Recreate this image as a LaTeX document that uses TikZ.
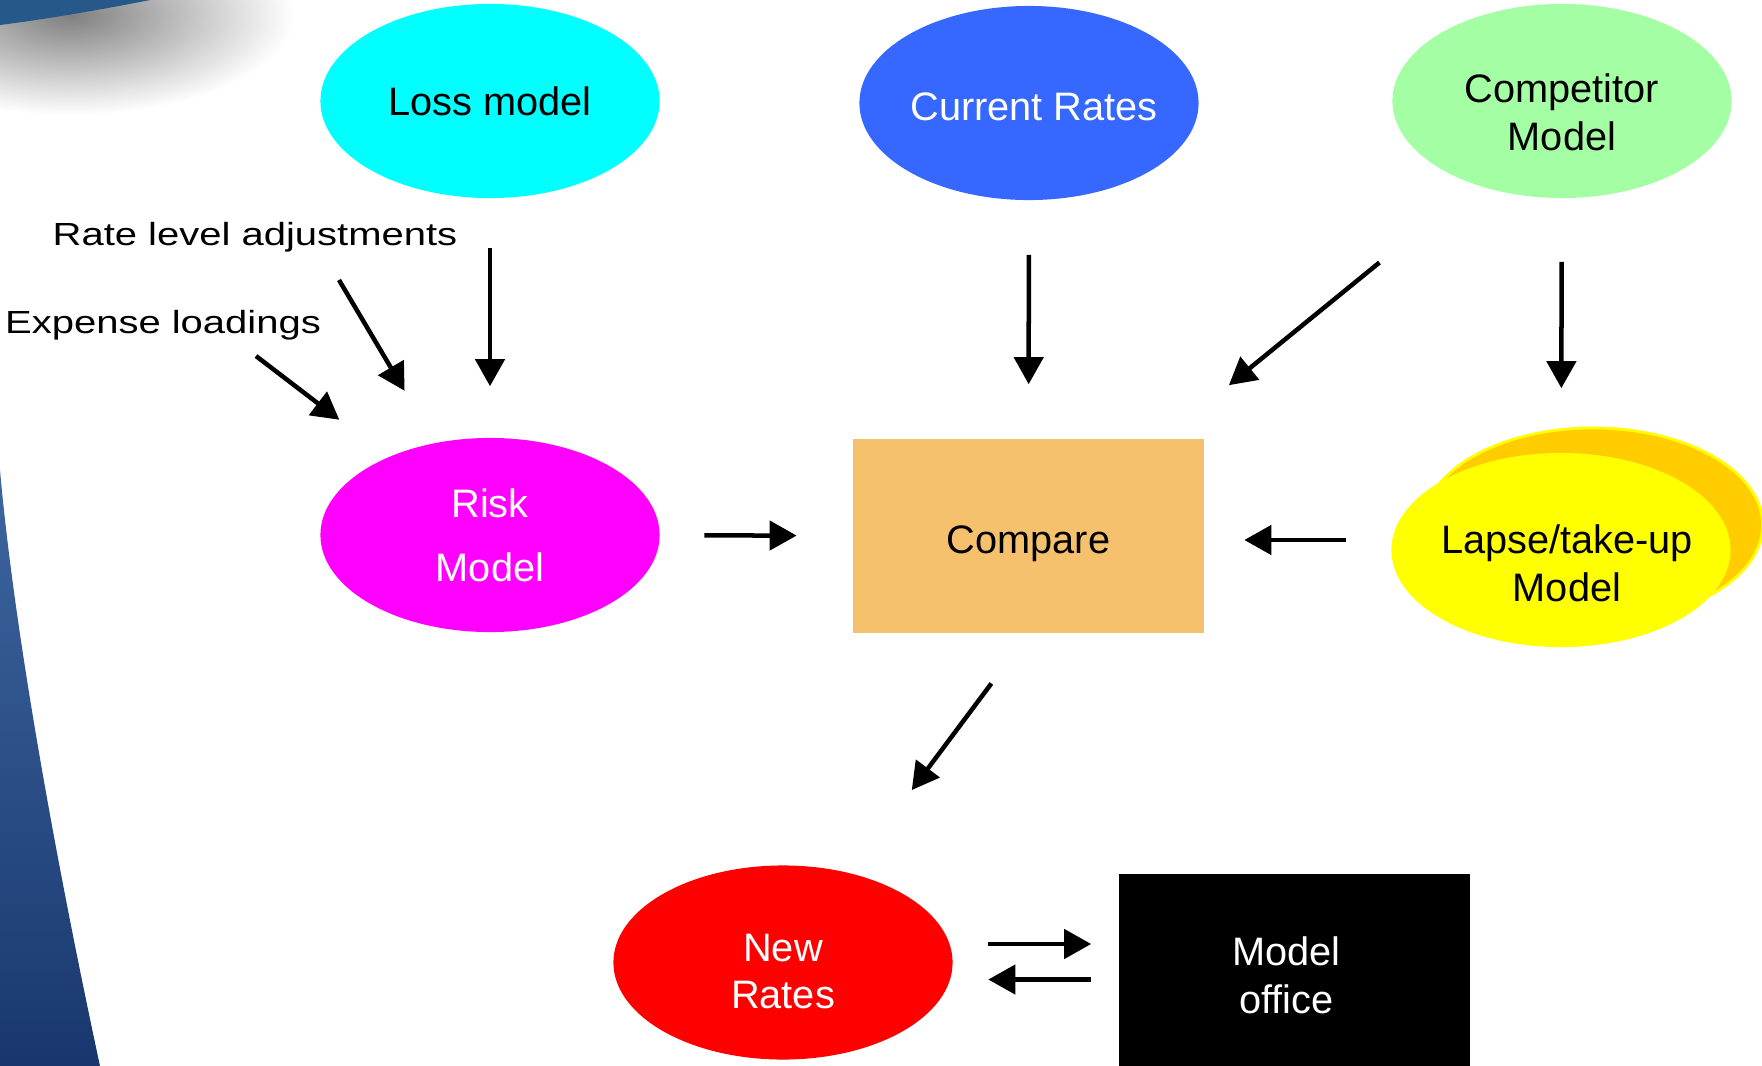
\documentclass[tikz,border=0pt]{standalone}
\usepackage{fontspec}
\setmainfont{Liberation Sans}
\usepackage{graphicx}
\usetikzlibrary{shapes.geometric,arrows.meta}
\definecolor{losscyan}{RGB}{0,255,255}
\definecolor{currblue}{RGB}{54,104,255}
\definecolor{compgreen}{RGB}{164,255,164}
\definecolor{riskmag}{RGB}{255,0,255}
\definecolor{cmporange}{RGB}{246,193,108}
\definecolor{lapseyel}{RGB}{255,255,0}
\definecolor{lapseorg}{RGB}{255,204,0}
\definecolor{newred}{RGB}{255,0,0}
\definecolor{swtop}{RGB}{62,102,160}
\definecolor{swbot}{RGB}{25,55,110}
\definecolor{swcap}{RGB}{38,88,138}
\newcommand\nodefont{\fontsize{11.3}{13.6}\selectfont}
\newcommand\lblfont{\fontsize{9.1}{11}\selectfont}
\newcommand\widelbl[1]{\scalebox{1.25}[1]{#1}}
\begin{document}
\begin{tikzpicture}[x=0.01cm,y=-0.01cm,
    blob/.style={ellipse, minimum width=3.39cm, minimum height=1.94cm, inner sep=0pt},
    box/.style={rectangle, minimum width=3.5cm, minimum height=1.94cm, inner sep=0pt},
    txt/.style={font=\nodefont, align=center},
    arr/.style={-{Triangle[length=0.27cm,width=0.29cm]}, line width=0.045cm},
    side/.style={font=\lblfont, anchor=base, inner sep=0pt}]
  \useasboundingbox (0,0) rectangle (1762,1066);
  % slide background
  \shade[inner color=black!50, outer color=white] (70,15) ellipse [x radius=225, y radius=100];
  \fill[swcap] (0,0) -- (150,0) .. controls (100,10) and (40,20) .. (0,25) -- cycle;
  \shade[top color=swtop, bottom color=swbot] (0,470) .. controls (15,640) and (60,880) .. (100,1066) -- (0,1066) -- cycle;

  % top row
  \node[blob, fill=losscyan, label={[txt]center:Loss model}] (loss) at (490,101) {};
  \node[blob, fill=currblue, label={[txt, text=white, xshift=0.05cm, yshift=-0.04cm]center:Current Rates}] (cur) at (1029,103) {};
  \node[blob, fill=compgreen, label={[txt, yshift=-0.11cm]center:Competitor\\Model}] (comp) at (1562,101) {};

  % middle row
  \node[blob, fill=riskmag, label={[txt, text=white]center:Risk\\[0.16cm]Model}] (risk) at (490,535) {};
  \node[box, fill=cmporange, label={[txt, yshift=-0.08cm]center:Compare}] (cmp) at (1028.5,536) {};
  \node[blob, fill=lapseorg, draw=lapseyel, thick] (lapse-back) at (1593,525) {};
  \node[blob, fill=lapseyel, label={[txt, xshift=0.06cm, yshift=-0.135cm]center:Lapse/take-up\\Model}] (lapse) at (1561,550) {};

  % bottom row
  \node[blob, fill=newred, label={[txt, text=white, yshift=-0.09cm]center:New\\Rates}] (new) at (783,962.5) {};
  \node[box, fill=black, label={[txt, text=white, xshift=-0.08cm, yshift=-0.04cm]center:Model\\office}] (mo) at (1294.5,971) {};

  % side labels
  \node[side] (rla) at (255,245.5) {\widelbl{Rate level adjustments}};
  \node[side] (el) at (163,333) {\widelbl{Expense loadings}};
  \coordinate (rla-tail) at (339,280);
  \coordinate (el-tail) at (256,356);

  % arrows
  \draw[arr, shorten <=0.49cm, shorten >=0.51cm] (loss) -- (risk);
  \draw[arr, shorten >=0.6cm] (rla-tail) -- (risk);
  \draw[arr, shorten >=0.61cm] (el-tail) -- (risk);
  \draw[arr, shorten <=0.54cm, shorten >=0.54cm] (cur) -- (cmp);
  \draw[arr, shorten <=1.18cm, shorten >=0.95cm, transform canvas={xshift=0.07cm, yshift=-0.07cm}] (comp) -- (cmp);
  \draw[arr, shorten <=0.63cm, shorten >=0.64cm] (comp) -- (lapse);
  \draw[arr, shorten <=0.44cm, shorten >=0.56cm] (risk) -- (cmp);
  \draw[arr, shorten <=0.45cm, shorten >=0.40cm] ([yshift=0.1cm]lapse.west) -- ([yshift=0.1cm]lapse.west -| cmp.east);
  \draw[arr, shorten <=0.62cm, shorten >=1.03cm] (cmp.south) -- (new);
  \draw[arr, shorten <=0.345cm, shorten >=0.275cm] ([yshift=0.185cm]new.east) -- ([yshift=0.185cm]new.east -| mo.west);
  \draw[arr, shorten <=0.275cm, shorten >=0.35cm] ([yshift=-0.17cm]new.east -| mo.west) -- ([yshift=-0.17cm]new.east);
\end{tikzpicture}
\end{document}
